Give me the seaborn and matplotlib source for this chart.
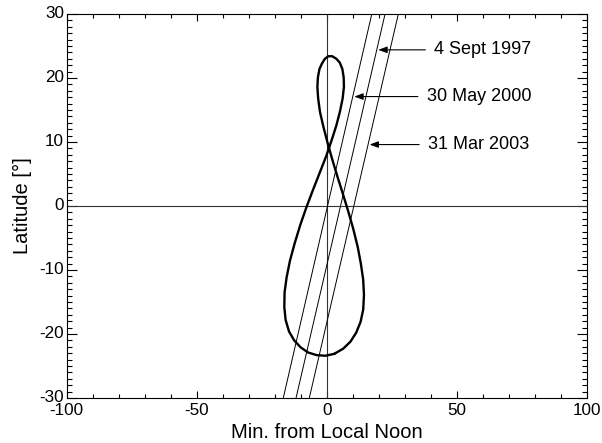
import numpy as np
import pandas as pd
import matplotlib
matplotlib.use("Agg")
import matplotlib.pyplot as plt
import matplotlib.transforms as mtransforms
from matplotlib.ticker import MultipleLocator
import seaborn as sns

# Analemma: minutes of local noon offset and solar declination, sampled weekly through the year
noon_offset_min = [3.2, 6.2, 9.0, 11.2, 12.9, 13.9, 14.2, 13.9, 13.0, 11.8, 10.1, 8.2, 6.1,
                   4.0, 2.0, 0.2, -1.4, -2.7, -3.4, -3.7, -3.5, -2.9, -1.9, -0.8, 0.5, 2.0,
                   3.6, 4.9, 5.9, 6.4, 6.5, 6.0, 5.0, 3.6, 1.8, -0.3, -2.8, -5.4, -8.0,
                   -10.3, -12.4, -14.2, -15.5, -16.3, -16.4, -15.9, -14.6, -12.6, -10.1,
                   -7.2, -4.0, -0.6, 2.8, 3.2]
declination_deg = [-23.0, -22.3, -21.2, -19.8, -18.1, -16.2, -13.9, -11.5, -9.0, -6.4, -3.6,
                   -0.9, 1.9, 4.6, 7.3, 9.9, 12.4, 14.7, 16.8, 18.6, 20.1, 21.4, 22.3, 23.0,
                   23.4, 23.4, 23.0, 22.4, 21.4, 20.1, 18.6, 16.8, 14.8, 12.6, 10.3, 7.8,
                   5.2, 2.5, -0.3, -3.0, -5.8, -8.5, -11.1, -13.5, -15.8, -17.8, -19.6,
                   -21.0, -22.1, -22.9, -23.3, -23.4, -23.1, -23.0]

# Ground tracks: offset (min) where each track crosses latitude -30 and +30
track_labels = ["30 May 2000", "4 Sept 1997", "31 Mar 2003"]
track_lat_ends = [-30.0, 30.0]
track_offset_south = [-16.8, -11.9, -6.8]
track_offset_north = [17.2, 22.3, 27.4]
label_lat = [17.1, 24.4, 9.6]
label_text_offset = [38.3, 41.2, 38.8]

sns.set_theme(style="ticks")
plt.rcParams["font.family"] = ["Liberation Sans", "DejaVu Sans"]
plt.rcParams["axes.linewidth"] = 0.8
plt.rcParams["axes.unicode_minus"] = False

fig = plt.figure(figsize=(6.02, 4.43), dpi=100)
ax = fig.add_axes([0.1108, 0.1016, 0.8648, 0.8668])

# zero reference lines
ax.axhline(0, color="#333333", lw=0.8, zorder=1)
ax.axvline(0, color="#333333", lw=0.8, zorder=1)

ana = pd.DataFrame({"offset": noon_offset_min, "lat": declination_deg})
sns.lineplot(data=ana, x="offset", y="lat", sort=False, estimator=None,
             color="black", lw=1.7, ax=ax, zorder=3)

for lab, xs, xn, la, tx in zip(track_labels, track_offset_south, track_offset_north,
                               label_lat, label_text_offset):
    tr = pd.DataFrame({"offset": [xs, xn], "lat": track_lat_ends})
    sns.lineplot(data=tr, x="offset", y="lat", sort=False, estimator=None,
                 color="black", lw=0.7, ax=ax, zorder=2)
    tip_x = np.interp(la, track_lat_ends, [xs, xn])
    ax.annotate(lab, xy=(tip_x + 0.6, la), xytext=(tx, la),
                ha="left", va="center", fontsize=13, color="black",
                arrowprops=dict(arrowstyle="-|>,head_length=0.4,head_width=0.15",
                                color="black", lw=0.8, shrinkA=4, shrinkB=0))

ax.set_xlim(-100, 100)
ax.set_ylim(-30, 30)
ax.xaxis.set_major_locator(MultipleLocator(50))
ax.xaxis.set_minor_locator(MultipleLocator(10))
ax.yaxis.set_major_locator(MultipleLocator(10))
ax.yaxis.set_minor_locator(MultipleLocator(1))
ax.tick_params(axis="both", which="both", direction="in", top=True, right=True,
               color="black", width=0.8, labelsize=12.3, labelcolor="black")
ax.tick_params(axis="x", which="major", length=5.2, pad=3.5)
ax.tick_params(axis="x", which="minor", length=2.6)
ax.tick_params(axis="y", which="major", length=7.5, pad=2)
ax.tick_params(axis="y", which="minor", length=3.7)
for s in ax.spines.values():
    s.set_color("black")

# nudge the latitude labels up slightly so they sit just above their ticks
lift = mtransforms.ScaledTranslation(0, 1.2 / 72, fig.dpi_scale_trans)
for lbl in ax.get_yticklabels():
    lbl.set_transform(lbl.get_transform() + lift)

ax.set_xlabel("Min. from Local Noon", fontsize=14.5, color="black", labelpad=4)
ax.set_ylabel("Latitude [°]", fontsize=14.5, color="black", labelpad=5)

fig.savefig("out.png", dpi=100)
